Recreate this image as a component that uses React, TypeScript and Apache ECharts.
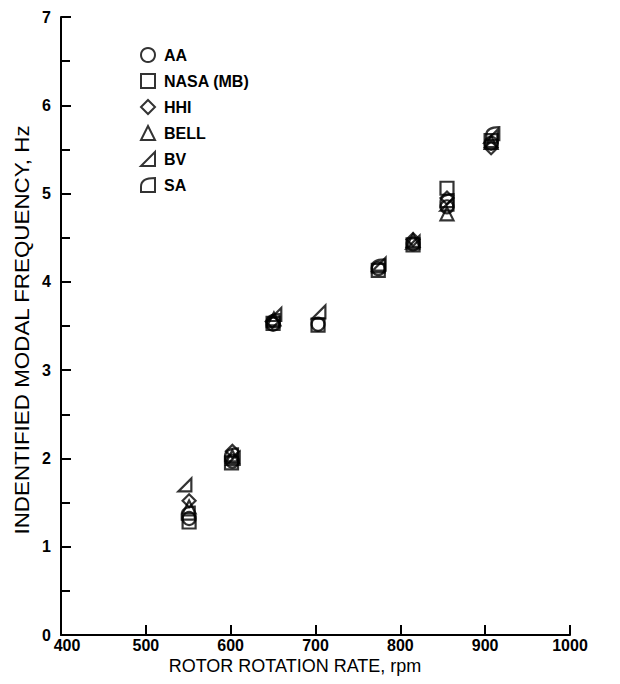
import React, { useEffect, useRef } from "react";
import * as echarts from "echarts";

const xTicks = [400, 500, 600, 700, 800, 900, 1000];
const yTicks = [0, 1, 2, 3, 4, 5, 6, 7];

const seriesNames = ["AA", "NASA (MB)", "HHI", "BELL", "BV", "SA"];

const rpmAA = [551, 602, 650, 703, 774, 815, 855, 907];
const hzAA = [1.32, 1.97, 3.52, 3.52, 4.15, 4.43, 4.85, 5.57];

const rpmNASA = [551, 601, 650, 703, 774, 815, 855, 907];
const hzNASA = [1.28, 1.95, 3.53, 3.51, 4.13, 4.42, 5.06, 5.6];

const rpmHHI = [551, 602, 649, 815, 855, 907];
const hzHHI = [1.52, 2.08, 3.55, 4.48, 4.95, 5.52];

const rpmBELL = [551, 602, 651, 815, 855, 907];
const hzBELL = [1.45, 2.02, 3.58, 4.47, 4.77, 5.58];

const rpmBV = [546, 603, 652, 704, 775, 815, 855, 907];
const hzBV = [1.7, 2.0, 3.63, 3.66, 4.2, 4.45, 4.88, 5.65];

const rpmSA = [550, 601, 650, 774, 855, 909];
const hzSA = [1.38, 2.04, 3.56, 4.18, 4.92, 5.68];

const FONT = '"Liberation Sans", Arial, Helvetica, sans-serif';

const symbols = [
  "circle",
  "rect",
  "diamond",
  "triangle",
  "path://M10 0L10 10L0 10Z",
  "path://M0 10L0 6Q0 0 10 0L10 10Z",
];

const allRpm = [rpmAA, rpmNASA, rpmHHI, rpmBELL, rpmBV, rpmSA];
const allHz = [hzAA, hzNASA, hzHHI, hzBELL, hzBV, hzSA];

export default function App() {
  const ref = useRef<HTMLDivElement>(null);
  useEffect(() => {
    if (!ref.current) return;
    const chart = echarts.init(ref.current, null, { renderer: "svg" });
    const series = seriesNames.map((name, i) => ({
      name,
      type: "scatter",
      symbol: symbols[i],
      symbolSize: 13,
      itemStyle: {
        color: "rgba(0,0,0,0)",
        borderColor: "#000",
        borderWidth: 2.2,
      },
      data: allRpm[i].map((r, j) => [r, allHz[i][j]]),
    }));
    chart.setOption({
      animation: false,
      backgroundColor: "#fff",
      grid: { left: 61, right: 50, top: 17, bottom: 49 },
      legend: {
        orient: "vertical",
        left: 135,
        top: 41,
        itemWidth: 14,
        itemHeight: 14,
        itemGap: 8,
        data: seriesNames,
        itemStyle: { borderWidth: 2, borderColor: "#000", color: "rgba(0,0,0,0)" },
        textStyle: {
          fontFamily: FONT,
          fontSize: 16,
          fontWeight: "bold",
          color: "#000",
          lineHeight: 18,
          padding: [0, 0, 0, 4],
        },
      },
      xAxis: {
        type: "value",
        min: xTicks[0],
        max: xTicks[xTicks.length - 1],
        interval: 100,
        axisLine: { show: true, lineStyle: { color: "#000", width: 2 } },
        axisTick: { show: true, inside: true, length: 10, lineStyle: { color: "#000", width: 2 } },
        axisLabel: {
          fontFamily: FONT,
          fontSize: 16,
          fontWeight: "bold",
          color: "#000",
          margin: 2,
          lineHeight: 16,
          formatter: (v: number) => (v === xTicks[0] ? "{first|" + v + "}" : String(v)),
          rich: {
            first: {
              fontFamily: FONT,
              fontSize: 16,
              fontWeight: "bold",
              color: "#000",
              lineHeight: 16,
              padding: [0, 0, 0, 12],
            },
          },
        },
        splitLine: { show: false },
      },
      yAxis: {
        type: "value",
        min: yTicks[0],
        max: yTicks[yTicks.length - 1],
        interval: 1,
        axisLine: { show: true, lineStyle: { color: "#000", width: 2 } },
        axisTick: { show: true, inside: true, length: 10, lineStyle: { color: "#000", width: 2 } },
        minorTick: { show: true, splitNumber: 2, length: 9, lineStyle: { color: "#000", width: 2 } },
        axisLabel: { fontFamily: FONT, fontSize: 16, fontWeight: "bold", color: "#000", margin: 10 },
        splitLine: { show: false },
      },
      graphic: [
        {
          type: "text",
          x: 295,
          y: 666,
          style: {
            text: "ROTOR ROTATION RATE, rpm",
            fontFamily: FONT,
            fontSize: 18,
            lineHeight: 18,
            fill: "#000",
            align: "center",
            verticalAlign: "middle",
          },
        },
        {
          type: "text",
          x: 22,
          y: 330,
          rotation: Math.PI / 2,
          scaleX: 1.12,
          style: {
            text: "INDENTIFIED MODAL FREQUENCY, Hz",
            fontFamily: FONT,
            fontSize: 20,
            fill: "#000",
            align: "center",
            verticalAlign: "middle",
          },
        },
      ],
      series,
    });
    return () => chart.dispose();
  }, []);
  return (
    <div
      ref={ref}
      style={{ position: "fixed", left: 0, top: 0, width: 620, height: 684, background: "#fff" }}
    />
  );
}
